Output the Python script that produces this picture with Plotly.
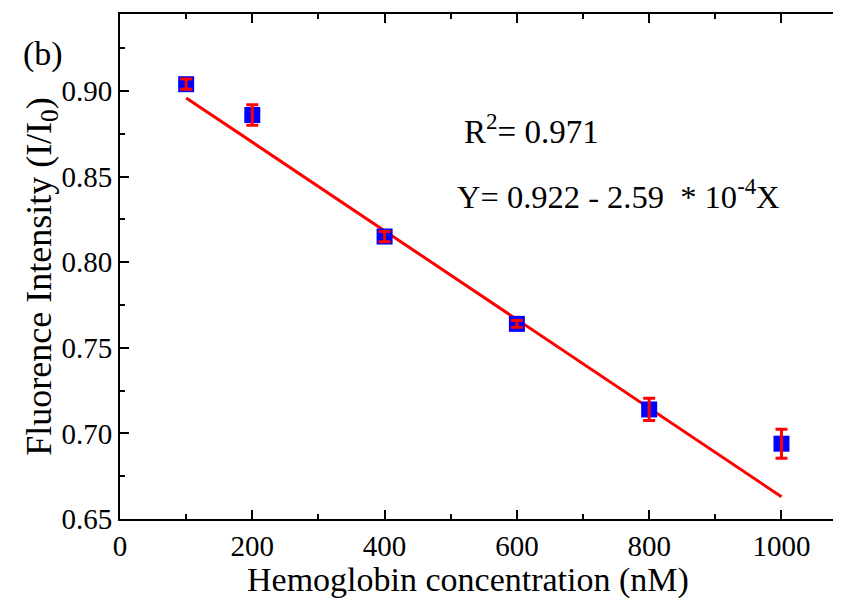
import plotly.graph_objects as go

conc = [100, 200, 400, 600, 800, 1000]
intensity = [0.904, 0.886, 0.815, 0.764, 0.714, 0.694]
err = [0.003, 0.006, 0.003, 0.002, 0.0065, 0.0085]
fit_x = [100, 1000]
fit_y = [0.896, 0.663]

FONT = "Liberation Serif, Times New Roman, serif"

fig = go.Figure()
fig.add_trace(go.Scatter(x=fit_x, y=fit_y, mode="lines",
                         line=dict(color="#ff0000", width=3), showlegend=False))
fig.add_trace(go.Scatter(x=conc, y=intensity, mode="markers",
                         marker=dict(symbol="square", size=16, color="#0000ff",
                                     line=dict(width=0)), showlegend=False))
fig.add_trace(go.Scatter(x=conc, y=intensity, mode="markers",
                         marker=dict(size=1, opacity=0),
                         error_y=dict(type="data", array=err, color="#ff0000",
                                      thickness=3, width=6),
                         showlegend=False))

fig.update_layout(
    width=833, height=590,
    margin=dict(l=112, r=0, t=6, b=79),
    plot_bgcolor="white", paper_bgcolor="white",
    font=dict(family=FONT, color="black", size=29),
    xaxis=dict(range=[0, 1090], tickvals=[0, 200, 400, 600, 800, 1000],
               automargin=False,
               ticks="inside", ticklen=9, tickwidth=2, tickcolor="black",
               minor=dict(tickvals=[100, 300, 500, 700, 900], ticks="inside",
                          ticklen=5, tickwidth=2, tickcolor="black"),
               showline=True, linewidth=2, linecolor="black", mirror="ticks",
               showgrid=False, zeroline=False,
               tickfont=dict(family=FONT, size=29)),
    yaxis=dict(range=[0.65, 0.945], tickvals=[0.65, 0.70, 0.75, 0.80, 0.85, 0.90],
               tickformat=".2f", automargin=False,
               ticks="inside", ticklen=9, tickwidth=2, tickcolor="black",
               minor=dict(tickvals=[0.675, 0.725, 0.775, 0.825, 0.875, 0.925],
                          ticks="inside", ticklen=5, tickwidth=2, tickcolor="black"),
               showline=True, linewidth=2, linecolor="black", mirror=False,
               showgrid=False, zeroline=False,
               tickfont=dict(family=FONT, size=29)),
)

fig.add_annotation(text="Hemoglobin concentration (nM)", xref="paper", yref="paper",
                   x=0.483, y=-0.121, xanchor="center", yanchor="middle", showarrow=False,
                   font=dict(family=FONT, size=34))
fig.add_annotation(text="Fluorence Intensity (I/I<sub>0</sub>)", xref="paper", yref="paper",
                   x=-0.11, y=0.481, xanchor="center", yanchor="middle", textangle=-90,
                   showarrow=False, font=dict(family=FONT, size=36))
fig.add_annotation(text="(b)", xref="paper", yref="paper",
                   x=-0.138, y=0.962, xanchor="left", yanchor="top", showarrow=False,
                   font=dict(family=FONT, size=34))
fig.add_annotation(text="R<sup>2</sup>= 0.971", x=517, y=0.878, xanchor="left",
                   yanchor="middle", showarrow=False, font=dict(family=FONT, size=33))
fig.add_annotation(text="Y= 0.922 - 2.59  * 10<sup>-4</sup>X", x=506, y=0.8395, xanchor="left",
                   yanchor="middle", showarrow=False, font=dict(family=FONT, size=32.5))

fig.write_html("out.html")
